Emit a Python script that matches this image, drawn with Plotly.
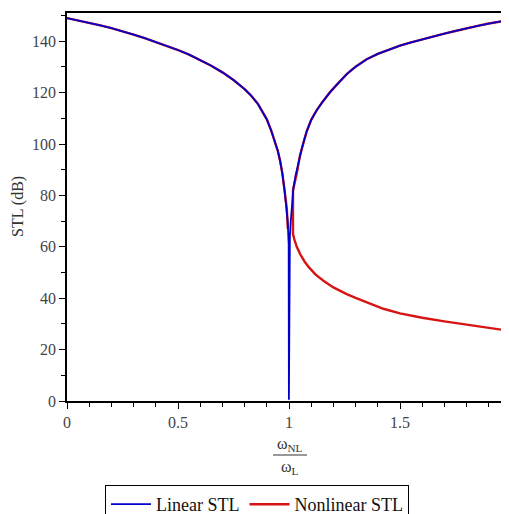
import plotly.graph_objects as go

# Left branch shared by both curves (x < 1)
left_x = [0, 0.05, 0.1, 0.15, 0.2, 0.25, 0.3, 0.35, 0.4, 0.45, 0.5, 0.55, 0.6, 0.65, 0.7,
          0.75, 0.8, 0.83, 0.86, 0.88, 0.9, 0.92, 0.94, 0.95, 0.96, 0.97, 0.98, 0.985, 0.99]
left_y = [149, 148.1, 147.2, 146.2, 145.1, 143.9, 142.6, 141.2, 139.7, 138.2, 136.6, 134.8,
          132.8, 130.5, 127.9, 124.9, 121.4, 118.8, 115.6, 112.8, 109.6, 105.2, 100.2, 97.2,
          93.4, 88.6, 82, 78.5, 75]

# Linear STL resonance dip near 1
lin_dip_x = [0.994, 0.997, 0.9985, 0.9995, 1.0005, 1.001, 1.004, 1.008, 1.015]
lin_dip_y = [70, 64, 61, 0.5, 33, 60, 64, 70, 78]

# Upper right branch (x > 1)
right_x = [1.02, 1.03, 1.04, 1.05, 1.06, 1.07, 1.08, 1.1, 1.125, 1.15, 1.185, 1.22, 1.26,
           1.3, 1.35, 1.4, 1.45, 1.5, 1.55, 1.6, 1.65, 1.7, 1.75, 1.8, 1.85, 1.9, 1.95, 2.0]
right_y = [83, 88, 92, 95.8, 99, 102.2, 105, 109.4, 113.2, 116.3, 120.2, 123.5, 127.2,
           130.1, 133, 135.1, 136.8, 138.3, 139.6, 140.8, 141.9, 143, 144, 145.1, 146,
           146.9, 147.6, 148.4]

# Nonlinear STL extra pieces
nl_left_end_x = [0.993, 0.995]
nl_left_end_y = [70, 67]
nl_lower_x = [2.0, 1.9, 1.785, 1.7, 1.6, 1.5, 1.425, 1.35, 1.3, 1.26, 1.2, 1.155, 1.12,
              1.09, 1.07, 1.05, 1.035, 1.025, 1.018]
nl_lower_y = [27.2, 28.4, 29.9, 31, 32.4, 34.1, 35.9, 38.3, 40.1, 41.6, 44.2, 46.8, 49.2,
              52, 54.3, 57.2, 60, 62.6, 65]
nl_join_x = [1.018, 1.025, 1.035]
nl_join_y = [82, 84.5, 88.5]

lin_x = left_x + lin_dip_x + right_x
lin_y = left_y + lin_dip_y + right_y

nl_x = left_x + nl_left_end_x + [None] + nl_lower_x + nl_join_x + right_x[3:]
nl_y = left_y + nl_left_end_y + [None] + nl_lower_y + nl_join_y + right_y[3:]

BLUE = "rgb(0,0,200)"
RED = "rgb(215,20,20)"
FONT = "Liberation Serif"

fig = go.Figure()
fig.add_trace(go.Scatter(x=nl_x, y=nl_y, mode="lines", name="Nonlinear STL",
                         line=dict(color=RED, width=2.4), legendrank=2))
fig.add_trace(go.Scatter(x=lin_x, y=lin_y, mode="lines", name="Linear STL",
                         line=dict(color=BLUE, width=1.8), legendrank=1))

OFF = 8  # page body margin
W, H = 509 - OFF, 514 - OFF
L = 67 - OFF
T = 13 - OFF
B = H - (401 - OFF)
pw = W - L
ph = H - T - B

fig.update_layout(
    width=W, height=H,
    margin=dict(l=L, r=0, t=T, b=B),
    paper_bgcolor="white", plot_bgcolor="white",
    font=dict(family=FONT, size=16, color="#333"),
    showlegend=True,
    legend=dict(orientation="h", xref="container", yref="container",
                x=(257 - OFF) / W, xanchor="center", y=1 - (485 - OFF) / H, yanchor="top",
                bordercolor="black", borderwidth=1, bgcolor="white",
                font=dict(family=FONT, size=18, color="#111"),
                itemwidth=40),
    xaxis=dict(range=[0, 1.991], showgrid=False, zeroline=False,
               showline=True, linecolor="black", linewidth=1.5, mirror=True,
               ticks="outside", ticklen=6, tickwidth=1, tickcolor="black",
               tickvals=[0, 0.5, 1, 1.5, 2], ticktext=["0", "0.5", "1", "1.5", "2"],
               tickfont=dict(family=FONT, size=16, color="#444"),
               minor=dict(dtick=0.1, ticks="outside", ticklen=4, tickcolor="black", showgrid=False)),
    yaxis=dict(range=[0, 151], showgrid=False, zeroline=False,
               showline=True, linecolor="black", linewidth=1.5, mirror=False,
               ticks="outside", ticklen=6, tickwidth=1, tickcolor="black",
               tickvals=[0, 20, 40, 60, 80, 100, 120, 140],
               tickfont=dict(family=FONT, size=16, color="#444"),
               minor=dict(dtick=10, ticks="outside", ticklen=4, tickcolor="black", showgrid=False)),
)

xc = (290 - 67) / pw
fig.add_annotation(text="ω<sub>NL</sub>", xref="paper", yref="paper", x=xc, y=0,
                   xanchor="center", yanchor="middle", yshift=-43, showarrow=False,
                   font=dict(family=FONT, size=16, color="#333"))
fig.add_annotation(text="ω<sub>L</sub>", xref="paper", yref="paper", x=xc, y=0,
                   xanchor="center", yanchor="middle", yshift=-66, showarrow=False,
                   font=dict(family=FONT, size=16, color="#333"))
fig.add_shape(type="line", xref="paper", yref="paper",
              x0=(273 - 67) / pw, x1=(307 - 67) / pw, y0=-54 / ph, y1=-54 / ph,
              line=dict(color="#333", width=1))
fig.add_annotation(text="STL (dB)", xref="paper", yref="paper", x=(18 - 67) / pw, y=0.5,
                   xanchor="center", yanchor="middle", textangle=-90, showarrow=False,
                   font=dict(family=FONT, size=16, color="#333"))

fig.write_html("out.html")
